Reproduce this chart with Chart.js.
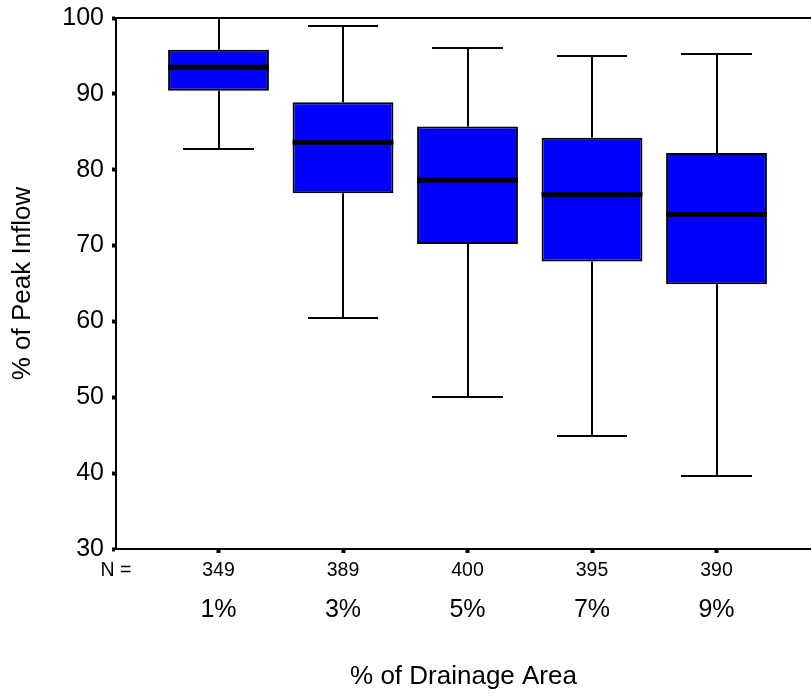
<!DOCTYPE html>
<html>
<head>
<meta charset="utf-8">
<script src="https://cdn.jsdelivr.net/npm/chart.js@4.4.1/dist/chart.umd.min.js"></script>
<style>
html,body{margin:0;padding:0;background:#fff;}
#wrap{width:811px;height:696px;position:relative;}
</style>
</head>
<body>
<div id="wrap"><canvas id="c" width="811" height="696"></canvas></div>
<script>
// ---- data ----
const categories   = ['1%', '3%', '5%', '7%', '9%'];
const counts       = [349, 389, 400, 395, 390];
const nLabel       = 'N =';
const whiskerLow   = [82.7, 60.4, 50.1, 44.9, 39.6];
const q1           = [90.4, 76.9, 70.2, 67.9, 64.9];
const median       = [93.5, 83.6, 78.6, 76.7, 74.1];
const q3           = [95.8, 88.9, 85.7, 84.2, 82.2];
const whiskerHigh  = [100, 99.0, 96.0, 95.0, 95.3];
const yTickValues  = [30, 40, 50, 60, 70, 80, 90, 100];
const yTitle = '% of Peak Inflow';
const xTitle = '% of Drainage Area';

// category positions on the x scale
const positions = categories.map((_, i) => i + 1);

// ---- layout / style settings ----
const X_MIN = 0.1767, X_MAX = 5.759;
const CAP_HALF = 0.285;
const FONT = "'Liberation Sans', Arial, sans-serif";

const boxData = positions.map((p, i) => ({ x: p, y: [q1[i], q3[i]] }));

const boxParts = {
  id: 'boxParts',
  beforeDatasetsDraw(chart) {
    const { ctx, scales: { x2, y } } = chart;
    ctx.save();
    ctx.strokeStyle = '#000';
    ctx.lineWidth = 2;
    positions.forEach((p, i) => {
      const cx = Math.round(x2.getPixelForValue(p));
      const l = Math.round(x2.getPixelForValue(p - CAP_HALF));
      const r = Math.round(x2.getPixelForValue(p + CAP_HALF));
      const yLo = Math.round(y.getPixelForValue(whiskerLow[i]));
      const yHi = Math.round(y.getPixelForValue(whiskerHigh[i]));
      const yQ1 = y.getPixelForValue(q1[i]);
      const yQ3 = y.getPixelForValue(q3[i]);
      ctx.beginPath();
      ctx.moveTo(cx, yLo); ctx.lineTo(cx, yQ1);
      ctx.moveTo(cx, yQ3); ctx.lineTo(cx, yHi);
      ctx.moveTo(l, yLo); ctx.lineTo(r, yLo);
      ctx.moveTo(l, yHi); ctx.lineTo(r, yHi);
      ctx.stroke();
    });
    ctx.restore();
  },
  afterDatasetsDraw(chart) {
    const { ctx, scales: { y }, chartArea } = chart;
    const meta = chart.getDatasetMeta(0);
    ctx.save();
    ctx.strokeStyle = '#000';
    ctx.lineWidth = 5;
    meta.data.forEach((bar, i) => {
      const ym = y.getPixelForValue(median[i]);
      ctx.beginPath();
      ctx.moveTo(bar.x - bar.width / 2, ym);
      ctx.lineTo(bar.x + bar.width / 2, ym);
      ctx.stroke();
    });
    // top frame line
    ctx.lineWidth = 2;
    ctx.beginPath();
    ctx.moveTo(chartArea.left, Math.round(chartArea.top));
    ctx.lineTo(chartArea.right, Math.round(chartArea.top));
    ctx.stroke();
    ctx.restore();
  }
};

new Chart(document.getElementById('c'), {
  type: 'bar',
  data: {
    datasets: [{
      data: boxData,
      xAxisID: 'x2',
      yAxisID: 'y',
      backgroundColor: '#0000ff',
      borderColor: '#000',
      borderWidth: 2,
      borderSkipped: false,
      barPercentage: 0.81,
      categoryPercentage: 1
    }]
  },
  options: {
    responsive: false,
    animation: false,
    events: [],
    layout: { padding: { top: 18, right: 0, bottom: 0, left: 0 } },
    plugins: { legend: { display: false }, tooltip: { enabled: false } },
    scales: {
      y: {
        type: 'linear',
        position: 'left',
        min: 30, max: 100,
        afterBuildTicks: s => { s.ticks = yTickValues.map(v => ({ value: v })); },
        afterFit: s => { s.width = 116; s.paddingTop = 0; s.paddingBottom = 0; },
        border: { display: true, color: '#000', width: 2 },
        grid: { display: true, drawOnChartArea: false, drawTicks: true, tickLength: 4, tickWidth: 4, tickColor: '#000' },
        ticks: { color: '#000', padding: 8, font: { family: FONT, size: 25 } },
        title: { display: true, text: yTitle, color: '#000', font: { family: FONT, size: 26 }, padding: { top: 7, bottom: 0 } }
      },
      x: {
        type: 'linear',
        position: 'bottom',
        weight: 1,
        offset: false,
        bounds: 'data',
        min: X_MIN, max: X_MAX,
        afterBuildTicks: s => { s.ticks = [{ value: X_MIN }].concat(positions.map(v => ({ value: v }))); },
        afterFit: s => { s.height = 32; },
        border: { display: true, color: '#000', width: 2 },
        grid: {
          display: true, offset: false, drawOnChartArea: false, drawTicks: true, tickLength: 4, tickWidth: 4,
          tickColor: c => (c.index === 0 ? 'rgba(0,0,0,0)' : '#000')
        },
        ticks: {
          color: '#000', padding: 6, autoSkip: false, maxRotation: 0,
          font: { family: FONT, size: 19.5 },
          callback: (v, i) => (i === 0 ? nLabel : String(counts[i - 1]))
        }
      },
      x2: {
        type: 'linear',
        position: 'bottom',
        weight: 2,
        offset: false,
        bounds: 'data',
        min: X_MIN, max: X_MAX,
        afterBuildTicks: s => { s.ticks = positions.map(v => ({ value: v })); },
        afterFit: s => { s.height = 115; },
        border: { display: false },
        grid: { display: false, offset: false },
        ticks: {
          color: '#000', padding: 6, autoSkip: false, maxRotation: 0,
          font: { family: FONT, size: 25 },
          callback: (v, i) => categories[i]
        },
        title: { display: true, text: xTitle, color: '#000', font: { family: FONT, size: 26 }, padding: { top: 0, bottom: 4 } }
      }
    }
  },
  plugins: [boxParts]
});
</script>
</body>
</html>
